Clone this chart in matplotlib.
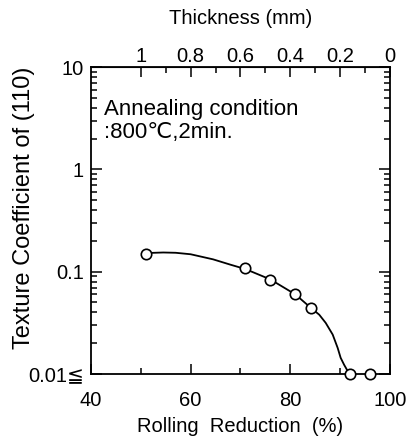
import matplotlib
matplotlib.use("Agg")
import matplotlib.pyplot as plt
from matplotlib.ticker import FixedLocator, LogLocator, NullFormatter

plt.rcParams['font.family'] = ['Liberation Sans', 'DejaVu Sans']

# measured points
reduction = [51, 71, 76, 81, 84.2, 92, 96]
texture = [0.15, 0.108, 0.083, 0.060, 0.044, 0.01, 0.01]

# hand-drawn trend curve
curve_x = [51, 54.5, 57, 60, 64.5, 68, 71, 76, 81, 84.2, 85.8, 87.1, 88.5, 89.5, 90.1, 90.8, 91.8]
curve_y = [0.152, 0.154, 0.153, 0.148, 0.132, 0.117, 0.106, 0.084, 0.06, 0.044, 0.038,
           0.0316, 0.0243, 0.018, 0.0144, 0.0123, 0.0101]

x_ticks = [40, 60, 80, 100]
x_minor = [50, 70, 90]
y_ticks = [0.01, 0.1, 1, 10]
y_labels = ['0.01≦', '0.1', '1', '10']
thick_ticks = [1, 0.8, 0.6, 0.4, 0.2, 0]
thick_labels = ['1', '0.8', '0.6', '0.4', '0.2', '0']
thick_minor = [0.9, 0.7, 0.5, 0.3, 0.1]

fig = plt.figure(figsize=(4.09, 4.42), dpi=100)
ax = fig.add_axes([0.2225, 0.1538, 0.731, 0.6946])

ax.plot(curve_x, curve_y, color='black', lw=1.3, zorder=2)
ax.plot(reduction, texture, 'o', ms=7.5, mfc='white', mec='black', mew=1.2,
        zorder=3, clip_on=False)

ax.set_yscale('log')
ax.set_xlim(40, 100)
ax.set_ylim(0.01, 10)

ax.set_xticks(x_ticks)
ax.set_xticklabels([str(v) for v in x_ticks])
ax.xaxis.set_minor_locator(FixedLocator(x_minor))
ax.set_yticks(y_ticks)
ax.set_yticklabels(y_labels)
ax.yaxis.set_minor_locator(LogLocator(base=10, subs=range(2, 10)))
ax.yaxis.set_minor_formatter(NullFormatter())

ax.tick_params(axis='both', which='both', direction='in', top=False, right=True,
               labelsize=14.5, width=1.1)
ax.tick_params(axis='x', which='major', length=7, pad=12)
ax.tick_params(axis='x', which='minor', length=4)
ax.tick_params(axis='y', which='major', length=8, pad=5)
ax.tick_params(axis='y', which='minor', length=4)

for s in ax.spines.values():
    s.set_linewidth(1.3)

sec = ax.secondary_xaxis('top', functions=(lambda r: 2 * (1 - r / 100.0),
                                           lambda t: 100 * (1 - t / 2.0)))
sec.set_xticks(thick_ticks)
sec.set_xticklabels(thick_labels)
sec.xaxis.set_minor_locator(FixedLocator(thick_minor))
sec.tick_params(axis='x', which='both', direction='in', labelsize=14.5, width=1.1)
sec.tick_params(axis='x', which='major', length=7, pad=1)
sec.tick_params(axis='x', which='minor', length=4)
sec.set_xlabel('Thickness (mm)', fontsize=14.5, labelpad=16)

ax.set_xlabel('Rolling  Reduction  (%)', fontsize=14.5, labelpad=5)
ax.set_ylabel('Texture Coefficient of (110)', fontsize=17)
ax.yaxis.set_label_coords(-0.187, 0.54)

ax.text(0.045, 0.845, 'Annealing condition', transform=ax.transAxes,
        fontsize=16, va='baseline')
ax.text(0.045, 0.77, ':800℃,2min.', transform=ax.transAxes,
        fontsize=16, va='baseline')

fig.savefig('out.png', dpi=100)
